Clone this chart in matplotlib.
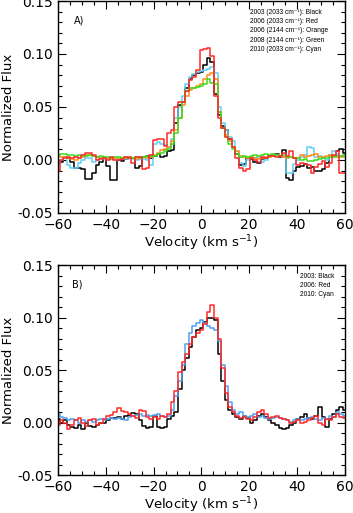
import numpy as np
import matplotlib
matplotlib.use("Agg")
import matplotlib.pyplot as plt
from matplotlib.ticker import MultipleLocator

# velocity grid (km/s), bin centres
velocity = np.arange(-60, 60.01, 1.5)

# Panel A fluxes, in units of 1e-3
a_2003 = [-3, -2, 3, 2, -2, -8, -8, -9, -18, -18, -12, -5, -2, 2, -6, -19, -19, 0, -1, 1,
          3, 2, -8, -6, 3, 4, 2, 4, 6, 3, 4, 8, 9, 35, 52, 55, 68, 76, 80, 82,
          83, 90, 96, 92, 62, 42, 32, 28, 20, 12, 6, -5, -4, 2, 1, -2, -3, 1, 2, 4,
          5, 6, 3, 9, -17, -19, -10, -7, -6, -4, -8, -7, -10, -10, -9, -3, 5, 4, 8, 10, 7]
a_2006 = [-10, 0, 2, 3, 2, 3, 2, 5, 7, 7, 5, 0, 1, 2, 0, 3, 0, 0, 1, 3,
          2, -3, 3, 3, -9, -8, 5, 19, 20, 20, 13, 25, 28, 50, 55, 55, 65, 75, 78, 85,
          104, 105, 106, 98, 60, 40, 30, 22, 20, 12, 2, -8, -10, -9, 2, 0, -2, 3, 2, 4,
          4, 3, 4, 7, 4, 8, 2, -5, -3, -4, -5, -12, -7, -4, -1, -7, -3, 5, 8, -12, -12]
a_2006o = [4, 3, 3, 2, 1, 0, 2, 3, 5, 5, 4, 3, 2, 2, 1, 1, 2, 2, 1, 2,
           3, 2, 1, 2, 3, 2, 3, 5, 7, 9, 10, 12, 18, 28, 40, 52, 60, 66, 68, 70,
           72, 76, 80, 82, 76, 45, 30, 24, 18, 12, 8, 4, 3, 2, 3, 2, 1, 2, 3, 3,
           4, 5, 4, 3, 2, 3, 2, 2, 5, 3, 4, 5, 6, 3, 3, 4, 5, 4, 3, 3, 4]
a_2008 = [5, 6, 6, 5, 5, 4, 5, 4, 4, 5, 4, 3, 4, 3, 3, 2, 3, 3, 2, 3,
          2, 2, 3, 2, 3, 4, 4, 4, 6, 7, 8, 10, 15, 25, 40, 55, 65, 68, 68, 69,
          70, 72, 76, 73, 72, 45, 30, 22, 15, 10, 6, 3, 4, 3, 4, 5, 4, 5, 6, 5,
          6, 5, 4, 5, 3, 3, 2, 2, 0, 1, -1, -1, 0, 1, 2, 2, 3, 3, 4, 4, 5]
a_2010 = [-3, 0, 3, -5, -8, -8, -3, 0, 2, 2, -2, 0, 2, 1, 2, 1, 0, 1, 2, 1,
          2, 1, 0, 1, 1, 0, -5, 15, 17, 15, 14, 12, 20, 40, 50, 60, 72, 78, 81, 83,
          84, 85, 86, 88, 82, 50, 35, 28, 22, 18, 8, -3, -6, 0, 2, 2, 3, -2, 0, 3,
          5, 5, 4, 3, -12, -12, -4, 0, 3, 5, 12, 11, 3, 4, 2, 0, 5, 8, 6, 4, 3]

# Panel B fluxes, in units of 1e-3
b_2003 = [3, 0, 2, -2, -4, -5, -2, -6, 0, -3, -4, -2, 0, 0, 2, 4, 4, 5, 3, 6,
          7, 9, 8, 2, -3, -5, -4, 6, -4, -5, -4, 3, 6, 10, 32, 50, 62, 72, 82, 88,
          90, 96, 100, 100, 98, 65, 40, 22, 12, 8, 5, 3, 6, 4, 0, 2, 6, 8, 5, 2,
          0, -2, -5, -6, -5, -2, 0, 3, 5, 8, 4, 3, 6, 15, 5, -4, 3, 8, 12, 15, 12]
b_2006 = [-2, 2, 0, -6, -2, 2, 4, 0, -3, 2, 3, -2, 0, 3, 6, 7, 10, 14, 11, 10,
          8, 6, 4, 12, 11, 5, 3, 5, 3, 6, 5, 8, 20, 30, 48, 58, 65, 75, 82, 85,
          88, 94, 105, 112, 100, 80, 52, 28, 15, 10, 6, 4, 5, 3, 2, 5, 10, 12, 8, 4,
          5, 6, 4, 3, 2, 0, 1, 2, 0, 1, 2, 4, 6, 0, -2, 3, 2, 5, 8, 5, 4]
b_2010 = [8, 5, 4, 2, 3, 2, 0, 2, 1, 2, 1, 2, 3, 2, 3, 4, 3, 4, 3, 2,
          5, 6, 7, 8, 6, 7, 6, 7, 8, 6, 5, 6, 12, 25, 40, 55, 75, 85, 92, 95,
          98, 95, 92, 90, 88, 78, 55, 35, 20, 12, 8, 10, 6, 5, 6, 8, 5, 6, 4, 3,
          4, 5, 4, 3, 2, 1, 2, 3, 2, 3, 4, 5, 3, 2, 4, 3, 6, 5, 10, 8, 6]

panel_a = [(a_2003, "black"), (a_2010, "#5fd0f5"), (a_2006o, "#ff8c1a"),
           (a_2008, "#3bdc1e"), (a_2006, "#ff2a2a")]
panel_b = [(b_2003, "black"), (b_2010, "#4fa0f0"), (b_2006, "#ff2a2a")]

legend_a = ["2003 (2033 cm\u207b\u00b9): Black", "2006 (2033 cm\u207b\u00b9): Red",
            "2006 (2144 cm\u207b\u00b9): Orange", "2008 (2144 cm\u207b\u00b9): Green",
            "2010 (2033 cm\u207b\u00b9): Cyan"]
legend_b = ["2003: Black", "2006: Red", "2010: Cyan"]
small_font = ["Liberation Sans", "DejaVu Sans"]

fig = plt.figure(figsize=(3.53, 5.13), dpi=100)
ax_a = fig.add_axes([0.164, 0.585, 0.813, 0.413])
ax_b = fig.add_axes([0.164, 0.074, 0.813, 0.409])


def style_axis(ax):
    ax.set_xlim(-60, 60)
    ax.set_ylim(-0.05, 0.15)
    ax.xaxis.set_major_locator(MultipleLocator(20))
    ax.xaxis.set_minor_locator(MultipleLocator(5))
    ax.yaxis.set_major_locator(MultipleLocator(0.05))
    ax.yaxis.set_minor_locator(MultipleLocator(0.01))
    ax.yaxis.set_major_formatter(plt.FuncFormatter(lambda v, p: "%.2f" % v if abs(v) > 1e-9 else "0.00"))
    ax.tick_params(which="both", direction="in", top=True, right=True, width=0.8, labelsize=10)
    ax.tick_params(which="major", length=6)
    ax.tick_params(which="minor", length=3)
    for s in ax.spines.values():
        s.set_linewidth(1.0)
    ax.set_xlabel("Velocity (km s$^{-1}$)", fontsize=9.5, labelpad=1)
    ax.set_ylabel("Normalized Flux", fontsize=9.5, labelpad=2)


for vals, col in panel_a:
    ax_a.plot(velocity, np.array(vals) / 1000.0, drawstyle="steps-mid", color=col, lw=1.1)
for vals, col in panel_b:
    ax_b.plot(velocity, np.array(vals) / 1000.0, drawstyle="steps-mid", color=col, lw=1.1)

style_axis(ax_a)
style_axis(ax_b)

ax_a.text(0.055, 0.91, "A)", transform=ax_a.transAxes, fontsize=7, va="center")
ax_b.text(0.05, 0.91, "B)", transform=ax_b.transAxes, fontsize=7, va="center")

for k, t in enumerate(legend_a):
    ax_a.text(0.67, 0.948 - k * 0.044, t, transform=ax_a.transAxes, fontsize=4.8,
              va="center", family=small_font)
for k, t in enumerate(legend_b):
    ax_b.text(0.845, 0.948 - k * 0.044, t, transform=ax_b.transAxes, fontsize=4.8,
              va="center", family=small_font)

fig.savefig("out.png", dpi=100)
